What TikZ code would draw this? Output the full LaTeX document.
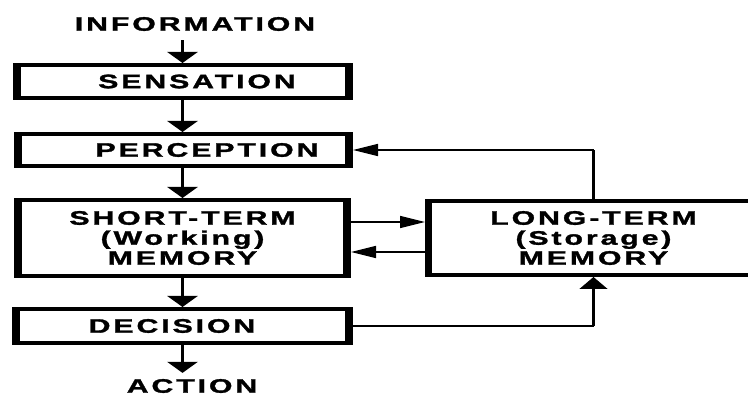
\documentclass[tikz,border=0pt]{standalone}
\usepackage{fontspec}
\usetikzlibrary{arrows.meta}
\newfontfamily\dfont{Liberation Sans}[FakeStretch=1.55,LetterSpace=15,FakeBold=1.6]
\tikzset{
  lbl/.style={font=\dfont\bfseries\fontsize{19.5}{20}\selectfont, inner sep=0pt, align=center},
  boxn/.style={lbl, draw, line width=4pt, rectangle},
  varrow/.style={line width=3pt, -{Triangle[length=11pt,width=30pt]}},
  harrow/.style={line width=1.5pt, -{Triangle[length=25pt,width=12pt]}},
  uarrow/.style={line width=1.5pt, -{Triangle[length=12pt,width=28pt]}},
  conn/.style={line width=1.5pt},
  vconn/.style={line width=2.5pt},
}
\begin{document}
\begin{tikzpicture}[x=1pt,y=-1pt]
\clip (0,0) rectangle (748,398);
\fill[white] (0,0) rectangle (748,398);

\node[lbl] (info) at (195,24) {INFORMATION};
\node[boxn, minimum width=336pt, minimum height=33pt] (sen) at (182.5,81.5) {\hspace*{29pt}SENSATION};
\node[boxn, minimum width=335pt, minimum height=32pt] (per) at (183.5,150) {\hspace*{47pt}PERCEPTION};
\node[boxn, minimum width=333pt, minimum height=76pt] (stm) at (182.5,238) {SHORT-TERM\\(Working)\\MEMORY};
\node[boxn, minimum width=337pt, minimum height=34pt] (dec) at (182.5,326) {DECISION\hspace*{21pt}};
\node[lbl] (act) at (192,386) {ACTION};
\node[boxn, minimum width=333pt, minimum height=74pt] (ltm) at (593.5,238) {LONG-TERM\\(Storage)\\MEMORY};

% thick vertical sides
\foreach \n in {sen,per,stm,dec}{
  \fill (\n.north west) rectangle ([xshift=8pt]\n.south west);
  \fill ([xshift=-8pt]\n.north east) rectangle (\n.south east);
}
\fill (ltm.north west) rectangle ([xshift=7pt]ltm.south west);

% main column
\coordinate (i0) at ([yshift=-9pt]info.south);
\draw[varrow] (i0 -| sen.north) -- (sen.north);
\draw[varrow] (sen.south) -- (sen.south |- per.north);
\draw[varrow] (per.south -| stm.north) -- (stm.north);
\draw[varrow] (stm.south) -- (dec.north);
\coordinate (a0) at ([yshift=6pt]act.north);
\draw[varrow] (dec.south) -- (dec.south |- a0);

% feedback LTM -> perception
\draw[harrow] (ltm.north) |- (per.east);
\draw[vconn] (ltm.north) -- (ltm.north |- per.east);

% STM <-> LTM
\coordinate (a1) at ([yshift=16pt]stm.east);
\coordinate (a2) at ([yshift=-14pt]stm.east);
\draw[harrow] (a1) -- (a1 -| ltm.west);
\draw[harrow] (a2 -| ltm.west) -- (a2);

% decision -> LTM
\draw[uarrow] (dec.east) -| (ltm.south);
\draw[vconn, shorten >=12pt] (dec.east -| ltm.south) -- (ltm.south);
\end{tikzpicture}
\end{document}
